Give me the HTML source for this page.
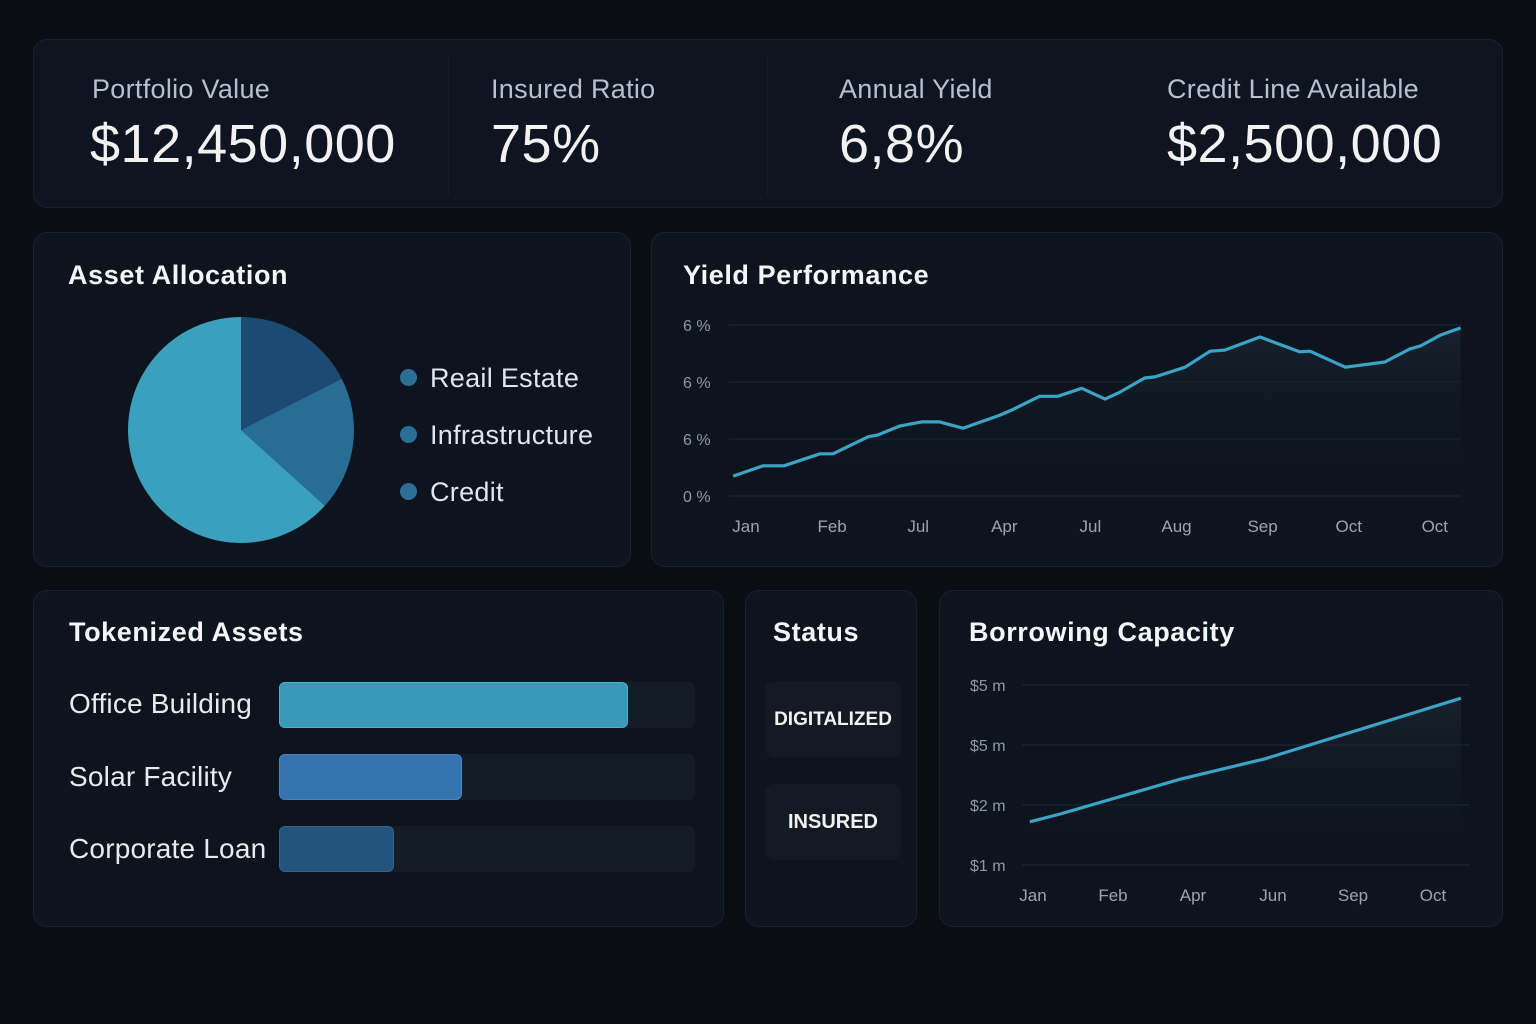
<!DOCTYPE html>
<html><head><meta charset="utf-8"><style>
*{margin:0;padding:0;box-sizing:border-box}
body{width:1536px;height:1024px;background:#0a0e14;font-family:"Liberation Sans",sans-serif;position:relative;overflow:hidden;color:#e8ecf2}
.panel{position:absolute;background:#0d141d;border:1px solid #172230;border-radius:14px}
.abs{position:absolute;white-space:nowrap}
.kl{font-size:27px;color:#b7c0cf;letter-spacing:0.3px}
.kv{font-size:54px;color:#f2f2f2;letter-spacing:0.5px}
.title{font-size:27px;color:#f3f5f8;font-weight:bold;letter-spacing:0.6px}
.leg{font-size:27px;color:#dfe5ee;letter-spacing:0.3px}
.dot{position:absolute;width:17px;height:17px;border-radius:50%;background:#2c6f95}
.blabel{font-size:28px;color:#e6ebf2;letter-spacing:0.2px}
.track{position:absolute;left:279px;width:416px;height:46px;background:#141c26;border-radius:6px}
.fill{position:absolute;left:0;top:0;height:46px;border-radius:6px}
.badge{position:absolute;left:765px;width:136px;background:#131a24;border-radius:10px;display:flex;align-items:center;justify-content:center;font-weight:bold;font-size:19px;color:#f2f2f2}
svg text{font-family:"Liberation Sans",sans-serif}
</style></head><body>
<div class="panel" style="left:33px;top:39px;width:1470px;height:169px;background:#0e1520"></div>
<div class="abs" style="left:448px;top:55px;width:1px;height:140px;background:#141d29"></div>
<div class="abs" style="left:767px;top:55px;width:1px;height:140px;background:#141d29"></div>
<div class="abs kl" style="left:92px;top:74px">Portfolio Value</div>
<div class="abs kv" style="left:90px;top:113px">$12,450,000</div>
<div class="abs kl" style="left:491px;top:74px">Insured Ratio</div>
<div class="abs kv" style="left:491px;top:113px">75%</div>
<div class="abs kl" style="left:839px;top:74px">Annual Yield</div>
<div class="abs kv" style="left:839px;top:113px">6,8%</div>
<div class="abs kl" style="left:1167px;top:74px">Credit Line Available</div>
<div class="abs kv" style="left:1167px;top:113px">$2,500,000</div>

<div class="panel" style="left:33px;top:232px;width:598px;height:335px"></div>
<div class="abs title" style="left:68px;top:260px">Asset Allocation</div>
<div class="dot" style="left:400px;top:369px"></div>
<div class="abs leg" style="left:430px;top:363px">Reail Estate</div>
<div class="dot" style="left:400px;top:426px"></div>
<div class="abs leg" style="left:430px;top:420px">Infrastructure</div>
<div class="dot" style="left:400px;top:483px"></div>
<div class="abs leg" style="left:430px;top:477px">Credit</div>

<div class="panel" style="left:651px;top:232px;width:852px;height:335px"></div>
<div class="abs title" style="left:683px;top:260px">Yield Performance</div>

<div class="panel" style="left:33px;top:590px;width:691px;height:337px"></div>
<div class="abs title" style="left:69px;top:617px">Tokenized Assets</div>
<div class="abs blabel" style="left:69px;top:688px">Office Building</div>
<div class="abs blabel" style="left:69px;top:761px">Solar Facility</div>
<div class="abs blabel" style="left:69px;top:833px">Corporate Loan</div>
<div class="track" style="top:682px"><div class="fill" id="f0" style="background:#3a98b8;border:1px solid #4cb0cf"></div></div>
<div class="track" style="top:754px"><div class="fill" id="f1" style="background:#3574b0;border:1px solid #4386c2"></div></div>
<div class="track" style="top:826px"><div class="fill" id="f2" style="background:#24547c;border:1px solid #2e6490"></div></div>

<div class="panel" style="left:745px;top:590px;width:172px;height:337px"></div>
<div class="abs title" style="left:773px;top:617px">Status</div>
<div class="badge" style="top:681px;height:77px">DIGITALIZED</div>
<div class="badge" style="top:784px;height:76px;font-size:20px">INSURED</div>

<div class="panel" style="left:939px;top:590px;width:564px;height:337px"></div>
<div class="abs title" style="left:969px;top:617px">Borrowing Capacity</div>

<svg id="svg" width="1536" height="1024" style="position:absolute;left:0;top:0">
<defs>
<linearGradient id="ga" x1="0" y1="0" x2="0" y2="1"><stop offset="0" stop-color="#1c2835" stop-opacity="0.7"/><stop offset="1" stop-color="#0d141d" stop-opacity="0"/></linearGradient>
</defs>
</svg>
<script>
// Asset allocation
const pieLabels=["Real Estate","Infrastructure","Credit"];
const pieValues=[17.5,19.2,63.3];
const pieColors=["#1d4a70","#286d93","#3aa0bd"];
// Tokenized assets
const barLabels=["Office Building","Solar Facility","Corporate Loan"];
const barValues=[84,44,27.6];
// Yield performance
const yTicks=["0 %","6 %","6 %","6 %"];
const yMonths=["Jan","Feb","Jul","Apr","Jul","Aug","Sep","Oct","Oct"];
const yIdx=[-0.15,0.2,0.44,0.86,1.01,1.42,1.53,1.79,2.04,2.25,2.52,2.95,3.09,3.41,3.62,3.9,4.17,4.34,4.63,4.75,5.1,5.39,5.56,5.97,6.43,6.55,6.96,7.42,7.71,7.83,8.06,8.3];
const yVals=[0.35,0.53,0.53,0.74,0.74,1.04,1.07,1.23,1.3,1.3,1.19,1.42,1.51,1.75,1.75,1.89,1.7,1.82,2.07,2.09,2.26,2.54,2.56,2.79,2.53,2.54,2.26,2.35,2.58,2.63,2.82,2.95];
// Borrowing capacity
const bTicks=["$1 m","$2 m","$5 m","$5 m"];
const bMonths=["Jan","Feb","Apr","Jun","Sep","Oct"];
const bIdx=[-0.04,0.34,1.84,2.9,5.35];
const bVals=[0.72,0.85,1.43,1.77,2.78];

const NS="http://www.w3.org/2000/svg";
const svg=document.getElementById('svg');
function mk(t,a,p){const e=document.createElementNS(NS,t);for(const k in a)e.setAttribute(k,a[k]);(p||svg).appendChild(e);return e;}

// pie
const cx=241,cy=430,r=113;let tot=pieValues.reduce((a,b)=>a+b,0),ang=0;
pieValues.forEach((v,i)=>{const a0=ang,a1=ang+v/tot*Math.PI*2;ang=a1;
 const x0=cx+r*Math.sin(a0),y0=cy-r*Math.cos(a0),x1=cx+r*Math.sin(a1),y1=cy-r*Math.cos(a1);
 const p=mk('path',{d:`M${cx},${cy}L${x0},${y0}A${r},${r} 0 ${a1-a0>Math.PI?1:0} 1 ${x1},${y1}Z`,fill:pieColors[i]});
 
 
});

// bars
barValues.forEach((v,i)=>{document.getElementById('f'+i).style.width=(416*v/100)+'px';});

// generic line chart
function lineChart(o){
 const xs=i=>o.x0+o.dx*i, ys=v=>o.yb-o.dy*v;
 o.ticks.forEach((t,i)=>{
  const g=mk('line',{x1:o.gx0,x2:o.gx1,y1:ys(i),y2:ys(i),stroke:'#1b2632','stroke-width':1.2});
  
  
  const tx=mk('text',{x:o.tx,y:ys(i)+6,fill:'#8e98a7','font-size':16});tx.textContent=t;
  
  
 });
 o.months.forEach((m,i)=>{
  const tx=mk('text',{x:xs(i),y:o.ly,fill:'#9aa4b2','font-size':17,'text-anchor':'middle'});tx.textContent=m;
  
  
 });
 const pts=o.idx.map((ix,i)=>[xs(ix),ys(o.vals[i])]);
 const d=pts.map((p,i)=>(i?'L':'M')+p[0].toFixed(1)+','+p[1].toFixed(1)).join('');
 const area=mk('path',{d:d+`L${pts[pts.length-1][0]},${o.yb}L${pts[0][0]},${o.yb}Z`,fill:'url(#ga)'});
 
 
 const ln=mk('path',{d:d,fill:'none',stroke:'#3ba3c6','stroke-width':3.2,'stroke-linejoin':'round'});
 
 
}
lineChart({name:'yield',ticks:yTicks,months:yMonths,idx:yIdx,vals:yVals,x0:746,dx:86.1,yb:496,dy:57,gx0:729,gx1:1461,tx:683,ly:532});
lineChart({name:'borrowing',ticks:bTicks,months:bMonths,idx:bIdx,vals:bVals,x0:1033,dx:80,yb:865,dy:60,gx0:1022,gx1:1470,tx:970,ly:901});
</script>
</body></html>
